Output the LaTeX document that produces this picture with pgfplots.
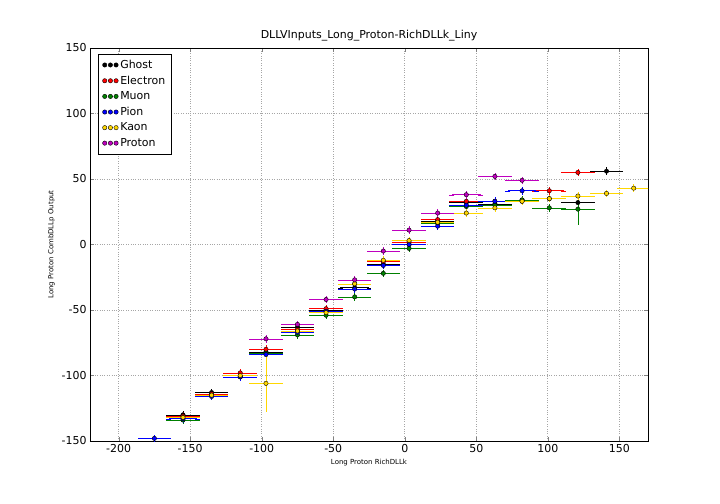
\documentclass[border=0pt]{standalone}
\usepackage{pgfplots}
\pgfplotsset{compat=1.18}
\usepackage{fontspec}
\setmainfont{DejaVu Sans}
\definecolor{mag}{RGB}{191,0,191}
\definecolor{gr}{RGB}{0,128,0}
\definecolor{yel}{RGB}{255,215,0}
\begin{document}
\begin{tikzpicture}
\pgfplotsset{ser/.style={color=#1,mark=*,only marks,mark size=2.2pt,
 every mark/.append style={fill=#1,draw=black,solid,line width=0.4pt},
 error bars/.cd,x dir=both,x explicit,y dir=both,y explicit,error bar style={color=#1,line width=0.6pt},error mark=|,error mark options={color=#1,mark size=2.5pt,rotate=90}},
 legend image code/.code={\draw[mark repeat=1,only marks] plot coordinates {(0.05cm,0cm) (0.25cm,0cm) (0.45cm,0cm)};}}
\useasboundingbox (-90bp,-63bp) rectangle (630bp,441bp);
\begin{axis}[scale only axis,width=558bp,height=393bp,
 at={(0,0)},anchor=south west,
 xmin=-220,xmax=170,ymin=-150,ymax=150,
 xtick={-200,-150,...,150},ytick={-150,-100,...,150},
 grid=major,grid style={dotted,gray!70,line width=0.8pt},
 tick align=inside,
 title={DLLVInputs\_Long\_Proton-RichDLLk\_Liny},
 title style={font=\fontsize{11}{13}\selectfont,yshift=-3pt},
 xlabel={Long Proton RichDLLk},ylabel={Long Proton CombDLLp Output},
 label style={font=\fontsize{7}{8}\selectfont},
 ticklabel style={font=\fontsize{11}{13}\selectfont},
 /pgf/number format/assume math mode=true,
 legend pos=north west,legend cell align=left,
 legend style={font=\fontsize{11}{13}\selectfont,row sep=2pt,inner sep=4pt,at={(0.015,0.985)}},
]
\addplot[ser=black] coordinates {(-155,-130)+-(10,1) (-135,-113)+-(10,1) (-115,-101)+-(10,1) (-97,-82)+-(10,1) (-75,-63)+-(10,1) (-55,-50)+-(10,1) (-35,-33)+-(10,1) (-15,-15)+-(10,1) (3,0)+-(10,1) (23,18)+-(10,1) (43,32)+-(10,1) (63,31)+-(10,1) (82,34)+-(10,1) (101,35)+-(10,1) (121,32)+-(10,4) (141,56)+-(10,1)};
\addlegendentry{Ghost}
\addplot[ser=red] coordinates {(-155,-131)+-(10,1) (-135,-114)+-(10,1) (-115,-98)+-(10,1) (-97,-80)+-(10,1) (-75,-65)+-(10,1) (-55,-49)+-(10,1) (-35,-30)+-(10,1) (-15,-13)+-(10,1) (3,2)+-(10,1) (23,19)+-(10,1) (43,33)+-(10,1) (63,33)+-(10,1) (82,33)+-(10,1) (101,41)+-(10,1) (121,55)+-(10,1)};
\addlegendentry{Electron}
\addplot[ser=gr] coordinates {(-155,-134)+-(10,1) (-135,-115)+-(10,1) (-115,-101)+-(10,1) (-97,-83)+-(10,1) (-75,-69)+-(10,1) (-55,-54)+-(10,1) (-35,-40)+-(10,1) (-15,-22)+-(10,1) (3,-3)+-(10,1) (23,16)+-(10,1) (43,29)+-(10,1) (63,30)+-(10,1) (82,34)+-(10,1) (101,28)+-(10,1) (121,27)+-(10,10)};
\addlegendentry{Muon}
\addplot[ser=blue] coordinates {(-175,-148)+-(10,1) (-155,-133)+-(10,1) (-135,-116)+-(10,1) (-115,-101)+-(10,1) (-97,-84)+-(10,1) (-75,-67)+-(10,1) (-55,-51)+-(10,1) (-35,-34)+-(10,1) (-15,-16)+-(10,1) (3,0)+-(10,1) (23,14)+-(10,1) (43,30)+-(10,1) (63,33)+-(10,1) (82,41)+-(10,1)};
\addlegendentry{Pion}
\addplot[ser=yel] coordinates {(-155,-132)+-(10,1) (-135,-115)+-(10,1) (-115,-100)+-(10,1) (-97,-106)+-(10,20) (-75,-66)+-(10,1) (-55,-52)+-(10,1) (-35,-30)+-(10,1) (-15,-12)+-(10,1) (3,3)+-(10,1) (23,17)+-(10,1) (43,24)+-(10,1) (63,28)+-(10,1) (82,33)+-(10,1) (101,35)+-(10,1) (121,37)+-(10,1) (141,39)+-(10,1) (160,43)+-(10,1)};
\addlegendentry{Kaon}
\addplot[ser=mag] coordinates {(-97,-72)+-(10,1) (-75,-61)+-(10,1) (-55,-42)+-(10,1) (-35,-27)+-(10,1) (-15,-5)+-(10,1) (3,11)+-(10,1) (23,24)+-(10,1) (43,38)+-(10,1) (63,52)+-(10,1) (82,49)+-(10,1)};
\addlegendentry{Proton}
\end{axis}
\end{tikzpicture}
\end{document}
